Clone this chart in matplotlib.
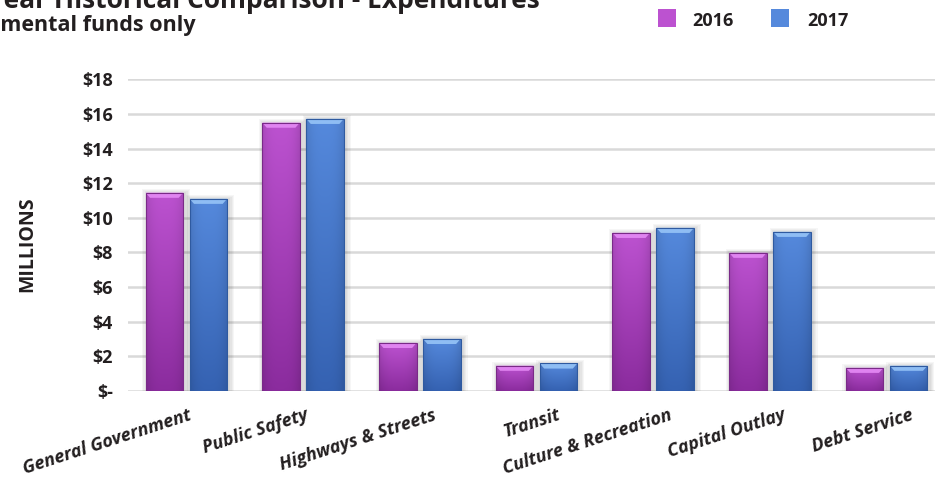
import numpy as np
import matplotlib.pyplot as plt
from matplotlib.patches import Rectangle, Polygon
from matplotlib.colors import to_rgb
import matplotlib.transforms as mtransforms

plt.rcParams['font.family'] = ['Open Sans', 'DejaVu Sans']

categories = ['General Government', 'Public Safety', 'Highways & Streets', 'Transit',
              'Culture & Recreation', 'Capital Outlay', 'Debt Service']
vals_2016 = [11.45, 15.5, 2.77, 1.45, 9.13, 7.98, 1.33]
vals_2017 = [11.1, 15.72, 3.0, 1.58, 9.42, 9.19, 1.45]
yticks = [0, 2, 4, 6, 8, 10, 12, 14, 16, 18]
ytick_labels = ['$-', '$2', '$4', '$6', '$8', '$10', '$12', '$14', '$16', '$18']

text_col = '#231f20'
# (top, bottom, bevel, edge) per series
style_2016 = ('#bc52d0', '#8b2c9e', '#e58af5', '#7a2a88')
style_2017 = ('#5589dc', '#3562b2', '#96c4f7', '#2f5aa0')

# small horizontal nudges (px) of the rotated category labels, as laid out in the source
label_dx = [2, 2, 13, 21, 15, 12, 23]

W, H = 935, 482
fig = plt.figure(figsize=(W / 100, H / 100), dpi=100)
ax = fig.add_axes([128 / W, 1 - 390.7 / H, 817 / W, (390.7 - 79.3) / H])

x = np.arange(len(categories))
bw = 0.323
off = 0.1885


def shade(ax, bars, style):
    top, bot, bevel, edge = style
    grad = np.linspace(0, 1, 64)[:, None]
    c1, c2 = np.array(to_rgb(top)), np.array(to_rgb(bot))
    img = c1[None, None, :] * (1 - grad[..., None]) + c2[None, None, :] * grad[..., None]
    side = np.linspace(-1, 1, 24)
    dark = 1 - 0.10 * np.abs(side) ** 3
    img = np.repeat(img, 24, axis=1) * dark[None, :, None]
    for b in bars:
        x0, w, h = b.get_x(), b.get_width(), b.get_height()
        # soft shadow
        for k in range(1, 5):
            ex = 0.011 * k
            ax.add_patch(Rectangle((x0 - ex + 0.015, 0), w + 2 * ex, h + 0.05 * k,
                                   color='black', alpha=0.035, lw=0, zorder=2))
        b.set_facecolor('none')
        b.set_edgecolor(edge)
        b.set_linewidth(0.8)
        b.set_zorder(4)
        im = ax.imshow(img, extent=[x0, x0 + w, 0, h], origin='upper',
                       aspect='auto', zorder=3, interpolation='bilinear')
        im.set_clip_path(b)
        d = w * 0.12
        t = min(0.3, h * 0.3)
        ax.add_patch(Polygon([(x0, h), (x0 + w, h), (x0 + w - d, h - t), (x0 + d, h - t)],
                             closed=True, facecolor=bevel, edgecolor='none', alpha=0.9, zorder=3.5))


b16 = ax.bar(x - off, vals_2016, bw, label='2016', zorder=3)
b17 = ax.bar(x + off, vals_2017, bw, label='2017', zorder=3)
shade(ax, b16, style_2016)
shade(ax, b17, style_2017)

ax.set_xlim(-0.5, len(categories) - 0.5)
ax.set_ylim(0, 18)
ax.set_yticks(yticks)
ax.set_yticklabels(ytick_labels, fontsize=13, fontweight='bold', color=text_col)
ax.yaxis.grid(True, color='#d9d9d9', lw=1.8, zorder=0)
ax.set_axisbelow(True)
for s in ax.spines.values():
    s.set_visible(False)
ax.tick_params(axis='y', length=0, pad=11)
ax.tick_params(axis='x', length=0, pad=11)

ax.set_xticks(x)
ax.set_xticklabels(categories, rotation=18, ha='right', rotation_mode='anchor',
                   fontsize=13, fontweight='bold', fontstyle='italic', color=text_col)
for lab, dx in zip(ax.get_xticklabels(), label_dx):
    shift = mtransforms.ScaledTranslation(dx / 100, 0, fig.dpi_scale_trans)
    lab.set_transform(lab.get_transform() + shift)

fig.text(27 / W, 1 - 244 / H, 'MILLIONS', rotation=90, ha='center', va='center',
         fontsize=14, fontweight='bold', color=text_col)

# title (cropped at the top-left in the source)
fig.text(540 / W, 1 - 8 / H, 'Two Year Historical Comparison - Expenditures', ha='right',
         va='baseline', fontsize=19, fontweight='bold', color=text_col)
fig.text(196 / W, 1 - 31 / H, 'Governmental funds only', ha='right', va='baseline',
         fontsize=15.5, fontweight='bold', color=text_col)

# legend
leg_items = [('2016', style_2016[0], 658, 692), ('2017', style_2017[0], 771, 807)]
for name, col, sx, tx in leg_items:
    fig.patches.append(Rectangle((sx / W, 1 - 26.7 / H), 18 / W, 18 / H,
                                 transform=fig.transFigure, facecolor=col, edgecolor='none'))
    fig.text(tx / W, 1 - 26 / H, name, ha='left', va='baseline', fontsize=13,
             fontweight='bold', color=text_col)

fig.savefig('out.png', dpi=100)
